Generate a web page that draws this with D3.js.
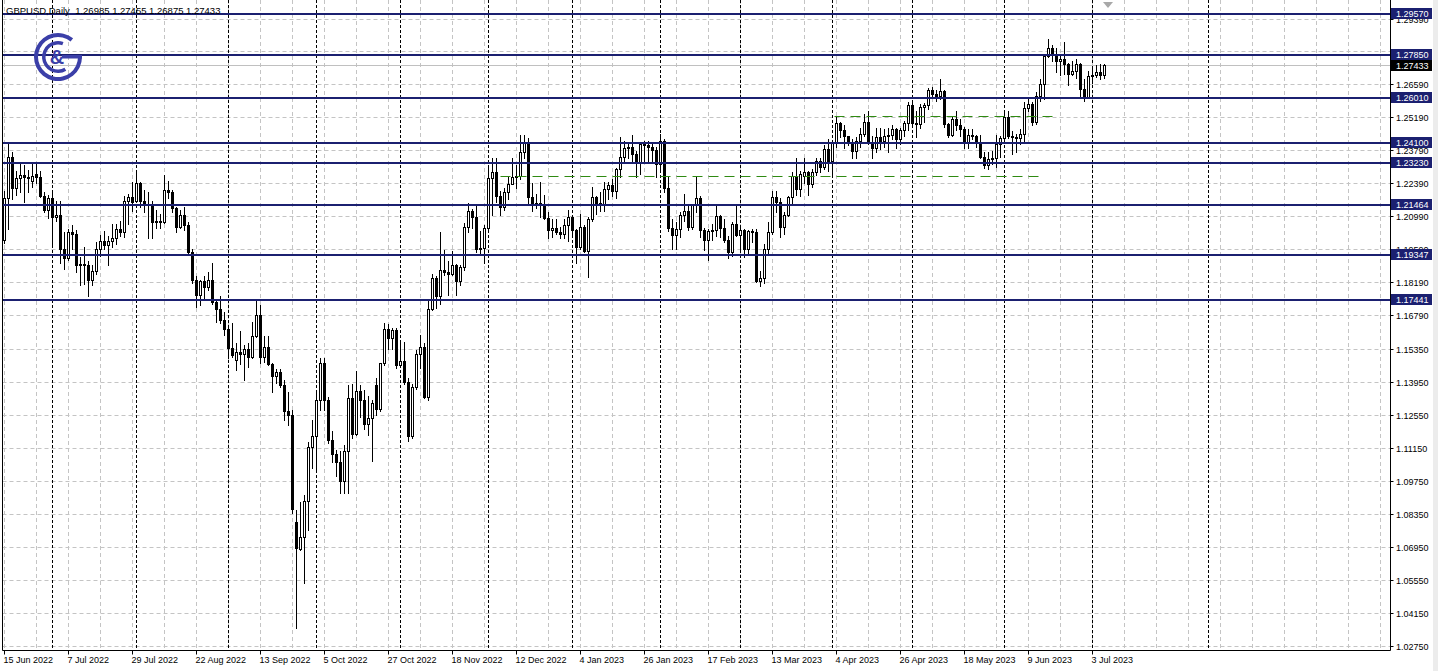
<!DOCTYPE html>
<html><head><meta charset="utf-8">
<script src="https://cdn.jsdelivr.net/npm/d3@7"></script>
<style>
html,body{margin:0;padding:0;background:#fff;overflow:hidden}
svg{display:block}
text{font-family:"Liberation Sans",Arial,sans-serif}
</style></head><body>
<svg id="chart" width="1438" height="671"></svg>
<script>
// ---- Daily GBPUSD candles, 15 Jun 2022 .. 6 Jul 2023 (one entry per trading day) ----
const opens = [
1.2000,1.2175,1.2350,1.2220,1.2260,1.2275,1.2265,1.2250,1.2280,1.2265,
1.2185,1.2125,1.2175,1.2095,1.2105,1.1960,1.1920,1.2030,1.2025,1.1890,
1.1895,1.1890,1.1830,1.1865,1.1960,1.1995,1.1975,1.1995,1.2005,1.2045,
1.2030,1.2165,1.2180,1.2165,1.2240,1.2165,1.2150,1.2150,1.2075,1.2080,
1.2075,1.2210,1.2200,1.2135,1.2055,1.2105,1.2060,1.1945,1.1830,1.1765,
1.1825,1.1800,1.1830,1.1735,1.1705,1.1660,1.1620,1.1540,1.1490,1.1520,
1.1515,1.1535,1.1500,1.1590,1.1680,1.1500,1.1545,1.1470,1.1420,1.1435,
1.1380,1.1270,1.1255,1.0800,1.0685,1.0735,1.0890,1.1120,1.1165,1.1320,
1.1475,1.1320,1.1150,1.1090,1.1055,1.0975,1.1100,1.1325,1.1175,1.1355,
1.1320,1.1215,1.1240,1.1380,1.1280,1.1475,1.1620,1.1580,1.1615,1.1465,
1.1485,1.1395,1.1165,1.1375,1.1515,1.1545,1.1330,1.1705,1.1835,1.1760,
1.1870,1.1860,1.1855,1.1890,1.1825,1.1885,1.2055,1.2120,1.2095,1.1960,
1.1965,1.2050,1.2260,1.2285,1.2185,1.2140,1.2200,1.2235,1.2265,1.2270,
1.2370,1.2415,1.2180,1.2145,1.2155,1.2150,1.2090,1.2040,1.2050,1.2030,
1.2025,1.2060,1.2095,1.2040,1.1970,1.2055,1.1950,1.2085,1.2180,1.2155,
1.2150,1.2215,1.2230,1.2205,1.2300,1.2350,1.2390,1.2395,1.2365,1.2330,
1.2405,1.2400,1.2395,1.2380,1.2320,1.2420,1.2220,1.2050,1.2020,1.2045,
1.2105,1.2120,1.2055,1.2145,1.2175,1.2040,1.2000,1.2035,1.2040,1.2100,
1.2050,1.2000,1.1945,1.2065,1.2020,1.2040,1.1960,1.2035,1.2030,1.1825,
1.1835,1.1960,1.2030,1.2180,1.2160,1.2055,1.2105,1.2180,1.2270,1.2215,
1.2270,1.2285,1.2235,1.2285,1.2335,1.2310,1.2385,1.2335,1.2415,1.2495,
1.2465,1.2440,1.2415,1.2375,1.2420,1.2450,1.2500,1.2415,1.2390,1.2435,
1.2420,1.2440,1.2445,1.2470,1.2425,1.2465,1.2495,1.2570,1.2495,1.2490,
1.2565,1.2570,1.2635,1.2620,1.2610,1.2630,1.2490,1.2445,1.2510,1.2485,
1.2470,1.2415,1.2445,1.2440,1.2410,1.2350,1.2315,1.2340,1.2345,1.2405,
1.2430,1.2520,1.2440,1.2435,1.2430,1.2450,1.2560,1.2575,1.2500,1.2610,
1.2660,1.2780,1.2815,1.2790,1.2760,1.2765,1.2745,1.2705,1.2715,1.2745,
1.2640,1.2605,1.2695,1.2700,1.2710,1.26985];
const highs = [
1.2205,1.2406,1.2370,1.2290,1.2325,1.2315,1.2295,1.2325,1.2330,1.2290,
1.2200,1.2190,1.2200,1.2165,1.2165,1.2030,1.2045,1.2060,1.2040,1.1925,
1.1970,1.1910,1.1890,1.1990,1.2020,1.2035,1.2015,1.2065,1.2065,1.2080,
1.2185,1.2195,1.2245,1.2293,1.2245,1.2210,1.2200,1.2165,1.2125,1.2110,
1.2276,1.2250,1.2210,1.2140,1.2125,1.2140,1.2075,1.1960,1.1845,1.1830,
1.1845,1.1860,1.1900,1.1745,1.1760,1.1690,1.1625,1.1645,1.1560,1.1610,
1.1550,1.1560,1.1648,1.1738,1.1720,1.1590,1.1590,1.1475,1.1450,1.1450,
1.1405,1.1350,1.1275,1.0850,1.0885,1.0915,1.1140,1.1235,1.1350,1.1495,
1.1495,1.1330,1.1185,1.1105,1.1100,1.1125,1.1380,1.1385,1.1440,1.1380,
1.1360,1.1335,1.1320,1.1410,1.1475,1.1645,1.1640,1.1625,1.1625,1.1560,
1.1565,1.1410,1.1385,1.1530,1.1595,1.1560,1.1740,1.1855,1.1845,1.2030,
1.1955,1.1910,1.1950,1.1895,1.1890,1.2070,1.2155,1.2130,1.2150,1.2035,
1.2060,1.2310,1.2345,1.2345,1.2205,1.2220,1.2265,1.2345,1.2315,1.2445,
1.2445,1.2430,1.2240,1.2195,1.2245,1.2190,1.2115,1.2085,1.2085,1.2055,
1.2085,1.2125,1.2100,1.2045,1.2110,1.2060,1.2095,1.2225,1.2185,1.2200,
1.2245,1.2245,1.2255,1.2305,1.2435,1.2420,1.2405,1.2445,1.2375,1.2415,
1.2420,1.2420,1.2415,1.2395,1.2450,1.2425,1.2270,1.2085,1.2075,1.2115,
1.2195,1.2145,1.2150,1.2270,1.2185,1.2050,1.2045,1.2065,1.2145,1.2105,
1.2085,1.2015,1.2075,1.2145,1.2060,1.2045,1.2040,1.2045,1.2045,1.1865,
1.1980,1.2075,1.2205,1.2205,1.2175,1.2115,1.2185,1.2285,1.2345,1.2290,
1.2345,1.2290,1.2300,1.2345,1.2345,1.2400,1.2425,1.2420,1.2525,1.2500,
1.2485,1.2440,1.2425,1.2435,1.2475,1.2535,1.2545,1.2440,1.2475,1.2475,
1.2470,1.2475,1.2485,1.2475,1.2475,1.2505,1.2585,1.2580,1.2545,1.2575,
1.2580,1.2645,1.2650,1.2635,1.2680,1.2635,1.2495,1.2525,1.2545,1.2510,
1.2480,1.2470,1.2470,1.2445,1.2445,1.2370,1.2370,1.2375,1.2445,1.2440,
1.2545,1.2545,1.2460,1.2450,1.2470,1.2585,1.2595,1.2585,1.2625,1.2680,
1.2790,1.2850,1.2825,1.2815,1.2780,1.2840,1.2750,1.2760,1.2765,1.2750,
1.2680,1.2715,1.2735,1.2740,1.2745,1.27455];
const lows = [
1.1985,1.2043,1.2170,1.2190,1.2200,1.2160,1.2200,1.2225,1.2240,1.2180,
1.2115,1.2090,1.1976,1.2080,1.1900,1.1875,1.1915,1.1960,1.1860,1.1805,
1.1810,1.1760,1.1805,1.1855,1.1930,1.1960,1.1890,1.1970,1.1980,1.2015,
1.2010,1.2065,1.2120,1.2160,1.2140,1.2115,1.2005,1.2005,1.2050,1.2050,
1.2070,1.2175,1.2115,1.2030,1.2050,1.2040,1.1935,1.1815,1.1715,1.1720,
1.1750,1.1785,1.1725,1.1650,1.1645,1.1595,1.1495,1.1500,1.1445,1.1470,
1.1405,1.1460,1.1495,1.1585,1.1475,1.1480,1.1465,1.1350,1.1390,1.1375,
1.1235,1.1210,1.0840,1.0350,1.0680,1.0540,1.0765,1.1030,1.1025,1.1275,
1.1275,1.1135,1.1055,1.0995,1.0925,1.0925,1.0925,1.1155,1.1170,1.1245,
1.1195,1.1170,1.1060,1.1255,1.1270,1.1465,1.1535,1.1535,1.1455,1.1460,
1.1385,1.1145,1.1155,1.1365,1.1455,1.1325,1.1320,1.1700,1.1710,1.1725,
1.1850,1.1765,1.1850,1.1765,1.1805,1.1870,1.2030,1.2050,1.1945,1.1935,
1.1900,1.2045,1.2105,1.2160,1.2105,1.2125,1.2170,1.2235,1.2220,1.2255,
1.2345,1.2155,1.2120,1.2135,1.2095,1.2085,1.2005,1.2010,1.2025,1.2005,
1.2005,1.1995,1.2025,1.1900,1.1960,1.1945,1.1840,1.2080,1.2110,1.2120,
1.2120,1.2170,1.2185,1.2175,1.2265,1.2335,1.2345,1.2330,1.2265,1.2280,
1.2335,1.2330,1.2325,1.2265,1.2285,1.2200,1.2035,1.1960,1.1960,1.2010,
1.2080,1.2040,1.2045,1.2115,1.2010,1.1955,1.1915,1.2000,1.2015,1.2010,
1.1990,1.1920,1.1930,1.2015,1.1945,1.1925,1.1935,1.1990,1.1820,1.1803,
1.1815,1.1935,1.2025,1.2115,1.2010,1.2025,1.2100,1.2150,1.2190,1.2185,
1.2240,1.2190,1.2225,1.2275,1.2285,1.2300,1.2290,1.2275,1.2395,1.2435,
1.2390,1.2400,1.2345,1.2345,1.2395,1.2440,1.2405,1.2345,1.2370,1.2385,
1.2395,1.2370,1.2425,1.2390,1.2405,1.2440,1.2465,1.2490,1.2435,1.2475,
1.2500,1.2555,1.2610,1.2590,1.2595,1.2480,1.2435,1.2440,1.2465,1.2440,
1.2390,1.2390,1.2425,1.2395,1.2345,1.2305,1.2300,1.2320,1.2310,1.2350,
1.2420,1.2430,1.2365,1.2370,1.2405,1.2420,1.2545,1.2485,1.2490,1.2590,
1.2595,1.2775,1.2760,1.2710,1.2700,1.2705,1.2655,1.2700,1.2685,1.2610,
1.2590,1.2600,1.2665,1.2690,1.2680,1.26875];
const closes = [
1.2175,1.2350,1.2220,1.2260,1.2275,1.2265,1.2260,1.2270,1.2265,1.2185,
1.2125,1.2175,1.2095,1.2105,1.1960,1.1920,1.2030,1.2025,1.1890,1.1895,
1.1890,1.1830,1.1865,1.1960,1.1995,1.1975,1.1995,1.2005,1.2045,1.2030,
1.2165,1.2180,1.2160,1.2240,1.2165,1.2150,1.2150,1.2075,1.2080,1.2075,
1.2210,1.2200,1.2135,1.2055,1.2105,1.2060,1.1945,1.1830,1.1765,1.1825,
1.1800,1.1830,1.1735,1.1705,1.1660,1.1620,1.1540,1.1510,1.1520,1.1515,
1.1535,1.1500,1.1590,1.1680,1.1500,1.1545,1.1470,1.1420,1.1435,1.1380,
1.1270,1.1255,1.0855,1.0690,1.0735,1.0890,1.1120,1.1165,1.1320,1.1475,
1.1320,1.1150,1.1090,1.1055,1.0975,1.1100,1.1325,1.1175,1.1355,1.1320,
1.1215,1.1240,1.1305,1.1280,1.1475,1.1620,1.1580,1.1615,1.1465,1.1485,
1.1395,1.1165,1.1375,1.1515,1.1545,1.1330,1.1705,1.1835,1.1760,1.1870,
1.1860,1.1855,1.1890,1.1825,1.1885,1.2055,1.2120,1.2095,1.1960,1.1965,
1.2050,1.2260,1.2285,1.2185,1.2140,1.2200,1.2235,1.2265,1.2270,1.2370,
1.2415,1.2180,1.2145,1.2155,1.2150,1.2090,1.2040,1.2050,1.2030,1.2025,
1.2060,1.2095,1.2040,1.1970,1.2055,1.1950,1.2085,1.2180,1.2155,1.2150,
1.2215,1.2230,1.2205,1.2300,1.2350,1.2390,1.2395,1.2365,1.2330,1.2405,
1.2400,1.2395,1.2380,1.2320,1.2420,1.2220,1.2050,1.2020,1.2045,1.2105,
1.2120,1.2055,1.2145,1.2175,1.2040,1.2000,1.2035,1.2040,1.2100,1.2050,
1.2000,1.1945,1.2065,1.2020,1.2040,1.1960,1.2035,1.2030,1.1825,1.1835,
1.1960,1.2030,1.2180,1.2160,1.2055,1.2105,1.2180,1.2270,1.2215,1.2280,
1.2285,1.2235,1.2285,1.2335,1.2310,1.2385,1.2335,1.2415,1.2495,1.2465,
1.2440,1.2415,1.2375,1.2420,1.2450,1.2500,1.2415,1.2390,1.2435,1.2420,
1.2440,1.2445,1.2470,1.2425,1.2465,1.2495,1.2570,1.2495,1.2490,1.2565,
1.2570,1.2635,1.2620,1.2610,1.2630,1.2490,1.2445,1.2510,1.2485,1.2470,
1.2415,1.2445,1.2440,1.2410,1.2350,1.2315,1.2340,1.2345,1.2405,1.2430,
1.2520,1.2440,1.2435,1.2430,1.2450,1.2560,1.2575,1.2500,1.2610,1.2660,
1.2780,1.2815,1.2790,1.2760,1.2765,1.2745,1.2705,1.2715,1.2745,1.2640,
1.2605,1.2695,1.2700,1.2710,1.2700,1.27433];

// ---- axis texts ----
const dateLabels = ["15 Jun 2022","7 Jul 2022","29 Jul 2022","22 Aug 2022","13 Sep 2022","5 Oct 2022",
  "27 Oct 2022","18 Nov 2022","12 Dec 2022","4 Jan 2023","26 Jan 2023","17 Feb 2023","13 Mar 2023",
  "4 Apr 2023","26 Apr 2023","18 May 2023","9 Jun 2023","3 Jul 2023"];
const barsPerLabel = 16;
const barsPerGrid = 8;
const monthStartBars = [12,33,56,78,99,121,142,164,184,207,227,250,272,301];
const gridPrices = [1.02750,1.04150,1.05550,1.06950,1.08350,1.09750,1.11150,1.12550,1.13950,1.15350,
  1.16790,1.18190,1.19590,1.20990,1.22390,1.23790,1.25190,1.26590,1.27990,1.29390];
const levelPrices = [1.29570,1.27850,1.26010,1.24100,1.23230,1.21464,1.19347,1.17441];
const greenPrices = [1.2268, 1.2525];
const greenFromBar = [124, 207.5];
const greenToBar = [260, 262.5];
const bidPrice = 1.27433;
const headerText = "GBPUSD,Daily  1.26985 1.27455 1.26875 1.27433";

// ---- layout ----
const W = 1438, H = 671;
const plotLeft = 2.5, plotRight = 1390.5, plotBottom = 650.5;
const NAVY = "#1b2070", GREEN = "#2f8a12", GRID = "#c4c4c4";
const svg = d3.select("#chart");
svg.append("rect").attr("width", W).attr("height", H).attr("fill", "#fff");

const x = d3.scaleLinear().domain([0, 1]).range([4.5, 8.5]);
const y = d3.scaleLinear().domain([1.0275, 1.2939]).range([645.5, 18.5]);
const py = p => Math.round(y(p));

const g = svg.append("g");

// horizontal grid
g.selectAll("line.hg").data(gridPrices).join("line")
  .attr("x1", plotLeft).attr("x2", plotRight)
  .attr("y1", d => py(d) + 0.5).attr("y2", d => py(d) + 0.5)
  .attr("stroke", GRID).attr("stroke-dasharray", "4,3");

// vertical grid
const nGrid = Math.floor((plotRight - x(0)) / (x(barsPerGrid) - x(0)));
const vgrid = d3.range(0, nGrid + 1).map(k => k * barsPerGrid).filter(b => x(b) < plotRight - 2);
g.selectAll("line.vg").data(vgrid).join("line")
  .attr("x1", d => x(d)).attr("x2", d => x(d))
  .attr("y1", 0).attr("y2", plotBottom)
  .attr("stroke", GRID).attr("stroke-dasharray", "4,3");

// period separators
g.selectAll("line.sep").data(monthStartBars).join("line")
  .attr("x1", d => x(d)).attr("x2", d => x(d))
  .attr("y1", 0).attr("y2", plotBottom)
  .attr("stroke", "#000").attr("stroke-dasharray", "3,2");

// bid line
g.append("line").attr("x1", plotLeft).attr("x2", plotRight)
  .attr("y1", py(bidPrice) + 0.5).attr("y2", py(bidPrice) + 0.5)
  .attr("stroke", "#c0c0c0");

// candles
const bars = d3.range(closes.length);
const cg = g.append("g");
bars.forEach(i => {
  const cx = x(i);
  const o = opens[i], c = closes[i], hi = highs[i], lo = lows[i];
  const yh = py(hi), yl = py(lo);
  cg.append("rect").attr("x", cx - 0.5).attr("y", yh).attr("width", 1).attr("height", yl - yh + 1).attr("fill", "#000");
  const top = py(Math.max(o, c)), bot = py(Math.min(o, c));
  const h = Math.max(1, bot - top + 1);
  cg.append("rect").attr("x", cx - 1.5).attr("y", top).attr("width", 3).attr("height", h).attr("fill", "#000");
  if (c > o && h > 2) {
    cg.append("rect").attr("x", cx - 0.5).attr("y", top + 1).attr("width", 1).attr("height", h - 2).attr("fill", "#fff");
  }
});

// green dashed levels
g.selectAll("line.gr").data(greenPrices).join("line")
  .attr("x1", (d, i) => x(greenFromBar[i])).attr("x2", (d, i) => x(greenToBar[i]))
  .attr("y1", d => py(d) + 0.5).attr("y2", d => py(d) + 0.5)
  .attr("stroke", GREEN).attr("stroke-width", 1).attr("stroke-dasharray", "10,6");

// navy horizontal levels
g.selectAll("line.lv").data(levelPrices).join("line")
  .attr("x1", plotLeft).attr("x2", plotRight)
  .attr("y1", d => py(d)).attr("y2", d => py(d))
  .attr("stroke", NAVY).attr("stroke-width", 2);

// frame
g.append("line").attr("x1", plotLeft).attr("x2", plotLeft).attr("y1", 0).attr("y2", plotBottom).attr("stroke", "#000");
g.append("line").attr("x1", plotRight).attr("x2", plotRight).attr("y1", 0).attr("y2", plotBottom).attr("stroke", "#000");
g.append("line").attr("x1", plotLeft).attr("x2", plotRight).attr("y1", plotBottom).attr("y2", plotBottom).attr("stroke", "#000");

// right strip
svg.append("rect").attr("x", 1433).attr("y", 0).attr("width", 5).attr("height", H).attr("fill", "#ececec");

// price axis labels
const ax = svg.append("g").attr("font-size", 9);
gridPrices.forEach(p => {
  ax.append("line").attr("x1", plotRight).attr("x2", plotRight + 3)
    .attr("y1", py(p) + 0.5).attr("y2", py(p) + 0.5).attr("stroke", "#000");
  ax.append("text").attr("x", 1396).attr("y", py(p) + 4).attr("fill", "#000").text(p.toFixed(5));
});
levelPrices.forEach(p => {
  ax.append("rect").attr("x", plotRight + 0.5).attr("y", py(p) - 6).attr("width", 41).attr("height", 11).attr("fill", NAVY);
  ax.append("text").attr("x", 1396).attr("y", py(p) + 3).attr("fill", "#fff").text(p.toFixed(5));
});
ax.append("rect").attr("x", plotRight + 0.5).attr("y", py(bidPrice) - 5).attr("width", 41).attr("height", 11).attr("fill", "#000");
ax.append("text").attr("x", 1396).attr("y", py(bidPrice) + 4).attr("fill", "#fff").text(bidPrice.toFixed(5));

// date axis labels
dateLabels.forEach((t, k) => {
  const bx = x(k * barsPerLabel);
  ax.append("line").attr("x1", bx).attr("x2", bx).attr("y1", plotBottom).attr("y2", plotBottom + 4).attr("stroke", "#000");
  ax.append("text").attr("x", bx - 1).attr("y", 663).attr("fill", "#000").text(t);
});

// header
svg.append("text").attr("x", 6).attr("y", 14).attr("font-size", 9.5).attr("fill", "#000")
  .attr("xml:space", "preserve").style("white-space", "pre").text(headerText);

// chart-shift marker
svg.append("path").attr("d", "M1103,2 L1113,2 L1108,8 Z").attr("fill", "#a8a8a8");

// logo
const LOGO = "#3b3fa8";
const lg = svg.append("g").attr("transform", "translate(58,57)");
const arc = d3.arc();
lg.append("path").attr("fill", LOGO).attr("d", arc({innerRadius: 20, outerRadius: 24, startAngle: Math.PI / 2, endAngle: 2 * Math.PI + 0.68}));
lg.append("path").attr("fill", LOGO).attr("d", arc({innerRadius: 12.5, outerRadius: 16, startAngle: 2.6, endAngle: 2 * Math.PI + 0.35}));
lg.append("rect").attr("x", 4).attr("y", -2).attr("width", 20).attr("height", 3.5).attr("fill", LOGO);
lg.append("text").attr("x", -1).attr("y", 7).attr("text-anchor", "middle").attr("font-size", 20)
  .attr("font-weight", "bold").attr("font-family", "DejaVu Sans").attr("fill", LOGO).text("&");
</script>
</body></html>
